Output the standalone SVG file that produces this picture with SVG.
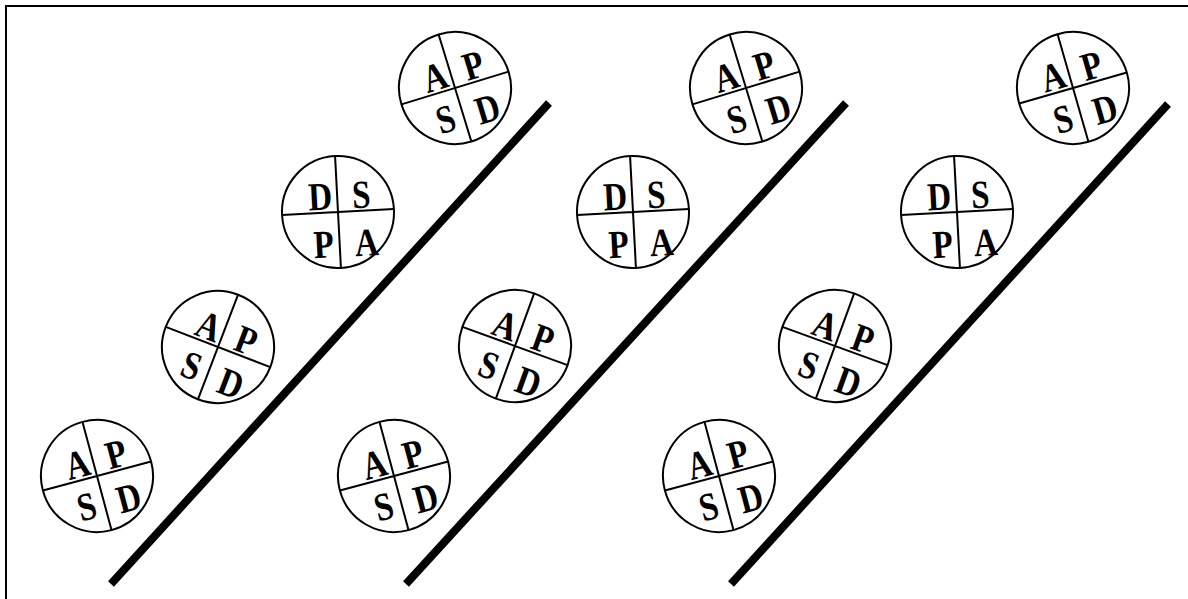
<svg xmlns="http://www.w3.org/2000/svg" width="1188" height="599" viewBox="0 0 1188 599">
  <style>
    .ring { fill: #fff; stroke: #000; stroke-width: 2; }
    .cross { stroke: #000; stroke-width: 2; fill: none; }
    .lt { font-family: "Liberation Serif", "Times New Roman", serif; font-weight: bold; font-size: 33px; fill: #000; text-anchor: middle; }
    .bar { stroke: #000; stroke-width: 8; fill: none; }
    .frame { stroke: #000; stroke-width: 2; fill: none; }
  </style>

  <!-- outer frame (top and left edges) -->
  <path class="frame" d="M6,599 V6 H1188"/>

  <!-- diagonal bars -->
  <g id="connectors">
    <line class="bar" x1="111" y1="584" x2="549" y2="103"/>
    <line class="bar" x1="406" y1="584" x2="846" y2="103"/>
    <line class="bar" x1="731" y1="584" x2="1168" y2="104"/>
  </g>

  <!-- column 1 -->
  <g id="c1-top" transform="translate(455,88) rotate(-17)">
    <circle class="ring" r="56"/>
    <path class="cross" d="M0,-56 V56 M-56,0 H56"/>
    <g transform="scale(1,1.2)">
      <text class="lt" x="-16" y="-2.5">A</text><text class="lt" x="24" y="-2.5">P</text>
      <text class="lt" x="-18" y="33.5">S</text><text class="lt" x="25" y="35.5">D</text>
    </g>
  </g>
  <g id="c1-second" transform="translate(338,212) rotate(-3)">
    <circle class="ring" r="56"/>
    <path class="cross" d="M0,-56 V56 M-56,0 H56"/>
    <g transform="scale(1,1.2)">
      <text class="lt" x="-17" y="-2.5">D</text><text class="lt" x="24" y="-2.5">S</text>
      <text class="lt" x="-16" y="37.5">P</text><text class="lt" x="27" y="37.5">A</text>
    </g>
  </g>
  <g id="c1-third" transform="translate(218,347) rotate(21)">
    <circle class="ring" r="56"/>
    <path class="cross" d="M0,-56 V56 M-56,0 H56"/>
    <g transform="scale(1,1.2)">
      <text class="lt" x="-16" y="-2.5">A</text><text class="lt" x="24" y="-2.5">P</text>
      <text class="lt" x="-18" y="33.5">S</text><text class="lt" x="25" y="35.5">D</text>
    </g>
  </g>
  <g id="c1-bottom" transform="translate(97,476) rotate(-15)">
    <circle class="ring" r="56"/>
    <path class="cross" d="M0,-56 V56 M-56,0 H56"/>
    <g transform="scale(1,1.2)">
      <text class="lt" x="-16" y="-2.5">A</text><text class="lt" x="24" y="-2.5">P</text>
      <text class="lt" x="-18" y="33.5">S</text><text class="lt" x="25" y="35.5">D</text>
    </g>
  </g>

  <!-- column 2 -->
  <g id="c2-top" transform="translate(746,88) rotate(-17)">
    <circle class="ring" r="56"/>
    <path class="cross" d="M0,-56 V56 M-56,0 H56"/>
    <g transform="scale(1,1.2)">
      <text class="lt" x="-16" y="-2.5">A</text><text class="lt" x="24" y="-2.5">P</text>
      <text class="lt" x="-18" y="33.5">S</text><text class="lt" x="25" y="35.5">D</text>
    </g>
  </g>
  <g id="c2-second" transform="translate(633,212) rotate(-3)">
    <circle class="ring" r="56"/>
    <path class="cross" d="M0,-56 V56 M-56,0 H56"/>
    <g transform="scale(1,1.2)">
      <text class="lt" x="-17" y="-2.5">D</text><text class="lt" x="24" y="-2.5">S</text>
      <text class="lt" x="-16" y="37.5">P</text><text class="lt" x="27" y="37.5">A</text>
    </g>
  </g>
  <g id="c2-third" transform="translate(515,346) rotate(20)">
    <circle class="ring" r="56"/>
    <path class="cross" d="M0,-56 V56 M-56,0 H56"/>
    <g transform="scale(1,1.2)">
      <text class="lt" x="-16" y="-2.5">A</text><text class="lt" x="24" y="-2.5">P</text>
      <text class="lt" x="-18" y="33.5">S</text><text class="lt" x="25" y="35.5">D</text>
    </g>
  </g>
  <g id="c2-bottom" transform="translate(394,476) rotate(-15)">
    <circle class="ring" r="56"/>
    <path class="cross" d="M0,-56 V56 M-56,0 H56"/>
    <g transform="scale(1,1.2)">
      <text class="lt" x="-16" y="-2.5">A</text><text class="lt" x="24" y="-2.5">P</text>
      <text class="lt" x="-18" y="33.5">S</text><text class="lt" x="25" y="35.5">D</text>
    </g>
  </g>

  <!-- column 3 -->
  <g id="c3-top" transform="translate(1073,88) rotate(-16)">
    <circle class="ring" r="56"/>
    <path class="cross" d="M0,-56 V56 M-56,0 H56"/>
    <g transform="scale(1,1.2)">
      <text class="lt" x="-16" y="-2.5">A</text><text class="lt" x="24" y="-2.5">P</text>
      <text class="lt" x="-18" y="33.5">S</text><text class="lt" x="25" y="35.5">D</text>
    </g>
  </g>
  <g id="c3-second" transform="translate(957,212) rotate(-3)">
    <circle class="ring" r="56"/>
    <path class="cross" d="M0,-56 V56 M-56,0 H56"/>
    <g transform="scale(1,1.2)">
      <text class="lt" x="-17" y="-2.5">D</text><text class="lt" x="24" y="-2.5">S</text>
      <text class="lt" x="-16" y="37.5">P</text><text class="lt" x="27" y="37.5">A</text>
    </g>
  </g>
  <g id="c3-third" transform="translate(835,346) rotate(20)">
    <circle class="ring" r="56"/>
    <path class="cross" d="M0,-56 V56 M-56,0 H56"/>
    <g transform="scale(1,1.2)">
      <text class="lt" x="-16" y="-2.5">A</text><text class="lt" x="24" y="-2.5">P</text>
      <text class="lt" x="-18" y="33.5">S</text><text class="lt" x="25" y="35.5">D</text>
    </g>
  </g>
  <g id="c3-bottom" transform="translate(719,476) rotate(-15)">
    <circle class="ring" r="56"/>
    <path class="cross" d="M0,-56 V56 M-56,0 H56"/>
    <g transform="scale(1,1.2)">
      <text class="lt" x="-16" y="-2.5">A</text><text class="lt" x="24" y="-2.5">P</text>
      <text class="lt" x="-18" y="33.5">S</text><text class="lt" x="25" y="35.5">D</text>
    </g>
  </g>
</svg>
